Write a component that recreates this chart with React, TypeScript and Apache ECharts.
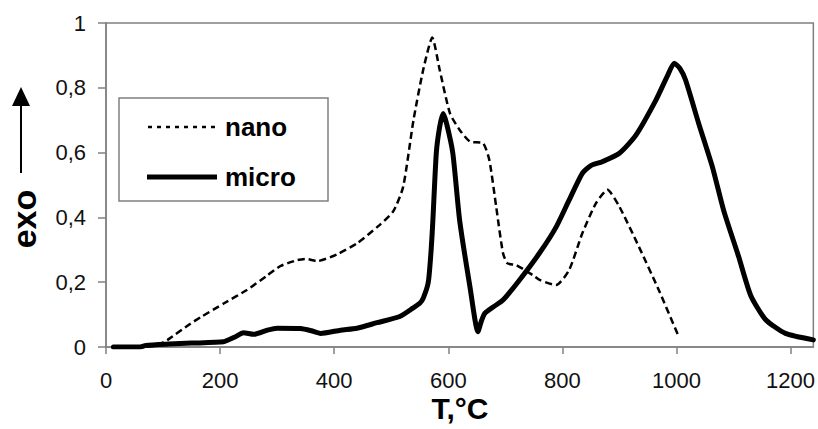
import React, { useEffect, useRef } from "react";
import * as echarts from "echarts";

const microT = [13, 60, 70, 110, 150, 206, 225, 241, 259, 283, 300, 341, 360, 376, 411, 440, 475, 515, 538, 550, 556, 565, 570, 573, 579, 585, 591, 597, 608, 620, 638, 652, 658, 664, 680, 696, 725, 760, 789, 812, 835, 850, 870, 900, 929, 964, 985, 996, 1006, 1016, 1039, 1063, 1083, 1109, 1130, 1156, 1191, 1240];
const microV = [0, 0, 0.005, 0.009, 0.012, 0.016, 0.03, 0.044, 0.039, 0.052, 0.058, 0.057, 0.05, 0.042, 0.052, 0.058, 0.075, 0.094, 0.12, 0.135, 0.15, 0.2, 0.3, 0.39, 0.598, 0.68, 0.721, 0.69, 0.598, 0.39, 0.186, 0.047, 0.08, 0.104, 0.125, 0.145, 0.207, 0.29, 0.37, 0.454, 0.536, 0.56, 0.572, 0.598, 0.654, 0.762, 0.84, 0.876, 0.86, 0.824, 0.69, 0.556, 0.42, 0.279, 0.16, 0.085, 0.042, 0.022];

const nanoT = [13, 60, 90, 102, 108, 148, 166, 207, 247, 282, 306, 335, 350, 370, 405, 440, 480, 504, 521, 539, 556, 572, 585, 603, 620, 638, 661, 672, 684, 696, 704, 719, 748, 760, 789, 812, 835, 859, 879, 900, 934, 969, 1004];
const nanoV = [0, 0, 0.005, 0.016, 0.022, 0.072, 0.092, 0.135, 0.176, 0.22, 0.25, 0.268, 0.272, 0.265, 0.286, 0.32, 0.377, 0.42, 0.495, 0.7, 0.855, 0.955, 0.855, 0.721, 0.67, 0.634, 0.629, 0.577, 0.433, 0.289, 0.258, 0.253, 0.222, 0.207, 0.191, 0.238, 0.351, 0.444, 0.485, 0.433, 0.31, 0.176, 0.032];

const xTicks = { min: 0, max: 1240, interval: 200 };
const yTicks = { min: 0, max: 1, interval: 0.2 };
const seriesNames = ["nano", "micro"];
const xTitle = "T,°C";
const yTitle = "exo";

const FONT = "'Liberation Sans', Arial, sans-serif";

export default function App() {
  const ref = useRef<HTMLDivElement>(null);
  useEffect(() => {
    if (!ref.current) return;
    const chart = echarts.init(ref.current, undefined, { renderer: "svg" });
    const micro = microT.map((t, i) => [t, microV[i]]);
    const nano = nanoT.map((t, i) => [t, nanoV[i]]);
    chart.setOption({
      animation: false,
      backgroundColor: "#fff",
      grid: {
        left: 106,
        top: 23,
        right: 3,
        bottom: 82,
        show: true,
        borderColor: "#808080",
        borderWidth: 1.5,
      },
      xAxis: {
        type: "value",
        min: xTicks.min,
        max: xTicks.max,
        interval: xTicks.interval,
        splitLine: { show: false },
        axisLine: { lineStyle: { color: "#808080", width: 1.5 } },
        axisTick: { show: true, length: 7, lineStyle: { color: "#808080", width: 1.5 } },
        axisLabel: {
          showMaxLabel: false,
          margin: 22,
          color: "#111",
          fontSize: 22,
          fontFamily: FONT,
          formatter: (v: number) => String(v),
        },
      },
      yAxis: {
        type: "value",
        min: yTicks.min,
        max: yTicks.max,
        interval: yTicks.interval,
        splitLine: { show: false },
        axisLine: { show: true, lineStyle: { color: "#808080", width: 1.5 } },
        axisTick: { show: true, length: 8, lineStyle: { color: "#808080", width: 1.5 } },
        axisLabel: {
          margin: 20,
          color: "#111",
          fontSize: 22,
          fontFamily: FONT,
          formatter: (v: number) => String(Math.round(v * 10) / 10).replace(".", ","),
        },
      },
      series: [
        {
          name: seriesNames[1],
          type: "line",
          data: micro,
          symbol: "none",
          smooth: 0.2,
          lineStyle: { color: "#000", width: 5, cap: "round", join: "round" },
        },
        {
          name: seriesNames[0],
          type: "line",
          data: nano,
          symbol: "none",
          smooth: 0.2,
          lineStyle: { color: "#000", width: 2.5, type: [7, 4] },
        },
      ],
      graphic: [
        {
          type: "rect",
          shape: { x: 119, y: 98, width: 209, height: 103 },
          style: { fill: "#fff", stroke: "#808080", lineWidth: 1.5 },
          z: 10,
        },
        {
          type: "line",
          shape: { x1: 148, y1: 127, x2: 218, y2: 127 },
          style: { stroke: "#000", lineWidth: 2.5, lineDash: [4, 5] },
          z: 11,
        },
        {
          type: "text",
          x: 225,
          y: 127,
          style: { text: seriesNames[0], font: `bold 26px ${FONT}`, fill: "#000", verticalAlign: "middle" },
          z: 11,
        },
        {
          type: "line",
          shape: { x1: 147, y1: 177, x2: 217, y2: 177 },
          style: { stroke: "#000", lineWidth: 5 },
          z: 11,
        },
        {
          type: "text",
          x: 225,
          y: 177,
          style: { text: seriesNames[1], font: `bold 26px ${FONT}`, fill: "#000", verticalAlign: "middle" },
          z: 11,
        },
        {
          type: "text",
          x: 460,
          y: 408,
          style: { text: xTitle, font: `bold 30px ${FONT}`, fill: "#000", align: "center", verticalAlign: "middle" },
        },
        {
          type: "text",
          x: 24,
          y: 219,
          rotation: Math.PI / 2,
          style: { text: yTitle, font: `bold 34px ${FONT}`, fill: "#000", align: "center", verticalAlign: "middle" },
        },
        {
          type: "line",
          shape: { x1: 21, y1: 173, x2: 21, y2: 104 },
          style: { stroke: "#000", lineWidth: 2 },
        },
        {
          type: "polygon",
          shape: { points: [[21, 87], [12, 106], [30, 106]] },
          style: { fill: "#000" },
        },
      ],
    });
    return () => chart.dispose();
  }, []);
  return (
    <div
      ref={ref}
      style={{ position: "fixed", left: 0, top: 0, width: 818, height: 429 }}
    />
  );
}
